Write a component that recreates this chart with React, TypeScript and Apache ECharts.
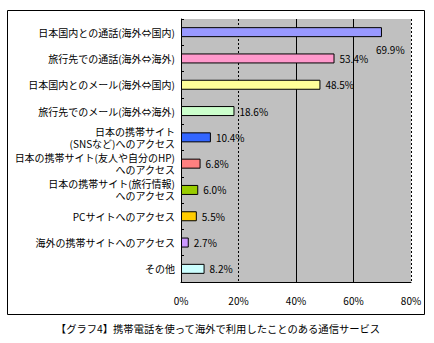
import React, { useEffect, useRef } from "react";
import * as echarts from "echarts";

const categories = [
  "日本国内との通話(海外⇔国内)",
  "旅行先での通話(海外⇔海外)",
  "日本国内とのメール(海外⇔国内)",
  "旅行先でのメール(海外⇔海外)",
  "日本の携帯サイト\n(SNSなど)へのアクセス",
  "日本の携帯サイト(友人や自分のHP)\nへのアクセス",
  "日本の携帯サイト(旅行情報)\nへのアクセス",
  "PCサイトへのアクセス",
  "海外の携帯サイトへのアクセス",
  "その他",
];
const values = [69.9, 53.4, 48.5, 18.6, 10.4, 6.8, 6.0, 5.5, 2.7, 8.2];
const barColors = [
  "#9999ff",
  "#ff99cc",
  "#ffff99",
  "#ccffcc",
  "#3366ff",
  "#ff8080",
  "#99cc00",
  "#ffcc00",
  "#cc99ff",
  "#ccffff",
];
const gridValues = [20, 40, 60, 80];
const dashedGrid = [20, 80];
const titleText = "【グラフ4】携帯電話を使って海外で利用したことのある通信サービス";

const FONT = "'Noto Sans CJK JP', 'Noto Sans', sans-serif";

export default function App() {
  const ref = useRef<HTMLDivElement>(null);
  useEffect(() => {
    if (!ref.current) return;
    const chart = echarts.init(ref.current, null, { renderer: "svg" });
    chart.setOption({
      animation: false,
      backgroundColor: "#ffffff",
      textStyle: { fontFamily: FONT },
      graphic: [
        {
          type: "rect",
          shape: { x: 7.5, y: 10.5, width: 417, height: 304 },
          style: { fill: "none", stroke: "#000", lineWidth: 1 },
          z: 0,
        },
        {
          type: "text",
          x: 218,
          y: 328,
          style: {
            text: titleText,
            fontSize: 10.3,
            fontFamily: FONT,
            fill: "#000",
            align: "center",
            verticalAlign: "middle",
          },
        },
      ],
      grid: {
        left: 181,
        top: 19,
        width: 230,
        height: 263,
        show: true,
        backgroundColor: "#c0c0c0",
        borderWidth: 0,
      },
      xAxis: {
        type: "value",
        min: 0,
        max: 80,
        interval: 20,
        axisLine: { show: true, lineStyle: { color: "#000", width: 1 } },
        axisTick: { show: false },
        splitLine: { show: false },
        axisLabel: {
          formatter: (v: number) => v + "%",
          fontSize: 10,
          color: "#000",
          margin: 13,
          fontFamily: FONT,
        },
      },
      yAxis: {
        type: "category",
        inverse: true,
        data: categories,
        axisLine: { show: true, lineStyle: { color: "#000", width: 1 } },
        axisTick: { show: true, inside: true, length: 3, lineStyle: { color: "#000" } },
        axisLabel: {
          fontSize: 10,
          color: "#000",
          margin: 6,
          lineHeight: 12,
          align: "right",
          fontFamily: FONT,
        },
      },
      series: [
        {
          type: "bar",
          barWidth: 10,
          data: values.map((v, i) => {
            const item: any = {
              value: v,
              itemStyle: { color: barColors[i], borderColor: "#000", borderWidth: 1 },
            };
            if (i === 0) {
              item.label = { offset: [-11, 17] };
            }
            return item;
          }),
          label: {
            show: true,
            position: "right",
            distance: 5,
            fontSize: 10,
            color: "#000",
            fontFamily: FONT,
            formatter: (p: any) => Number(p.value).toFixed(1) + "%",
          },
          markLine: {
            silent: true,
            symbol: ["none", "none"],
            label: { show: false },
            z: 1,
            data: gridValues.map((g) => ({
              xAxis: g,
              lineStyle: {
                color: "#000",
                width: 1,
                type: dashedGrid.includes(g) ? [2, 2] : "solid",
              },
            })),
          },
          z: 3,
        },
      ],
    });
    return () => chart.dispose();
  }, []);
  return (
    <div
      ref={ref}
      style={{ position: "absolute", left: 0, top: 0, width: 434, height: 343 }}
    />
  );
}
